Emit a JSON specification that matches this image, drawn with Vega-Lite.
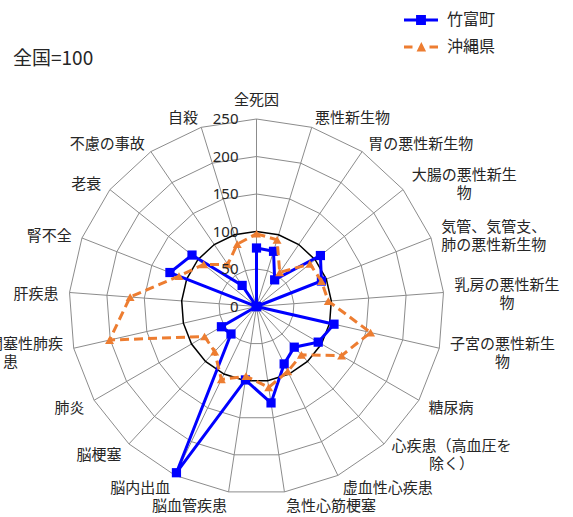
{
  "$schema": "https://vega.github.io/schema/vega-lite/v6.json",
  "width": 375,
  "height": 375,
  "autosize": "none",
  "padding": {"left": 69, "top": 119, "right": 129, "bottom": 23},
  "background": "white",
  "title": {"text": "全国=100", "anchor": "start", "frame": "group", "dx": -56, "dy": 67, "offset": 0, "fontSize": 19, "fontWeight": "normal", "font": "Noto Sans CJK JP", "color": "#262626"},
  "config": {"view": {"stroke": null}, "font": "Noto Sans CJK JP"},
  "datasets": {
    "d": [
      {"cat": "全死因", "竹富町": 78, "沖縄県": 97},
      {"cat": "悪性新生物", "竹富町": 77, "沖縄県": 93},
      {"cat": "胃の悪性新生物", "竹富町": 43, "沖縄県": 55},
      {"cat": "大腸の悪性新生物", "竹富町": 109, "沖縄県": 91},
      {"cat": "気管、気管支、肺の悪性新生物", "竹富町": 93, "沖縄県": 93},
      {"cat": "乳房の悪性新生物", "竹富町": 0, "沖縄県": 96},
      {"cat": "子宮の悪性新生物", "竹富町": 106, "沖縄県": 156},
      {"cat": "糖尿病", "竹富町": 95, "沖縄県": 131},
      {"cat": "心疾患（高血圧を除く）", "竹富町": 74, "沖縄県": 88},
      {"cat": "虚血性心疾患", "竹富町": 85, "沖縄県": 96},
      {"cat": "急性心筋梗塞", "竹富町": 130, "沖縄県": 109},
      {"cat": "脳血管疾患", "竹富町": 99, "沖縄県": 94},
      {"cat": "脳内出血", "竹富町": 246, "沖縄県": 108},
      {"cat": "脳梗塞", "竹富町": 50, "沖縄県": 82},
      {"cat": "肺炎", "竹富町": 54, "沖縄県": 80},
      {"cat": "慢性閉塞性肺疾患", "竹富町": 0, "沖縄県": 201},
      {"cat": "肝疾患", "竹富町": 0, "沖縄県": 169},
      {"cat": "腎不全", "竹富町": 124, "沖縄県": 111},
      {"cat": "老衰", "竹富町": 110, "沖縄県": 90},
      {"cat": "不慮の事故", "竹富町": 34, "沖縄県": 68},
      {"cat": "自殺", "竹富町": 0, "沖縄県": 87}
    ],
    "lv": [{"v": 0}, {"v": 50}, {"v": 100}, {"v": 150}, {"v": 200}, {"v": 250}]
  },
  "layer": [
    {
      "data": {"name": "d"},
      "transform": [
        {"window": [{"op": "row_number", "as": "rn"}]},
        {"calculate": "(datum.rn-1)*2*PI/21", "as": "ang"},
        {"calculate": "0", "as": "o"},
        {"calculate": "250*sin(datum.ang)", "as": "x"},
        {"calculate": "250*cos(datum.ang)", "as": "y"}
      ],
      "mark": {"type": "rule", "color": "#8c8c8c", "strokeWidth": 1},
      "encoding": {
        "x": {"field": "o", "type": "quantitative", "scale": {"domain": [-250, 250]}, "axis": null},
        "y": {"field": "o", "type": "quantitative", "scale": {"domain": [-250, 250]}, "axis": null},
        "x2": {"field": "x"},
        "y2": {"field": "y"}
      }
    },
    {
      "data": {"name": "d"},
      "transform": [
        {"window": [{"op": "row_number", "as": "rn"}]},
        {"calculate": "(datum.rn-1)*2*PI/21", "as": "ang"},
        {"calculate": "[50,150,200,250]", "as": "levs"},
        {"flatten": ["levs"], "as": ["lev"]},
        {"calculate": "datum.lev*sin(datum.ang)", "as": "x"},
        {"calculate": "datum.lev*cos(datum.ang)", "as": "y"}
      ],
      "mark": {"type": "line", "interpolate": "linear-closed", "color": "#8c8c8c", "strokeWidth": 1},
      "encoding": {
        "x": {"field": "x", "type": "quantitative", "scale": {"domain": [-250, 250]}, "axis": null},
        "y": {"field": "y", "type": "quantitative", "scale": {"domain": [-250, 250]}, "axis": null},
        "detail": {"field": "lev", "type": "nominal"},
        "order": {"field": "rn", "type": "quantitative"}
      }
    },
    {
      "data": {"name": "d"},
      "transform": [
        {"window": [{"op": "row_number", "as": "rn"}]},
        {"calculate": "(datum.rn-1)*2*PI/21", "as": "ang"},
        {"calculate": "100*sin(datum.ang)", "as": "x"},
        {"calculate": "100*cos(datum.ang)", "as": "y"}
      ],
      "mark": {"type": "line", "interpolate": "linear-closed", "color": "#000000", "strokeWidth": 1.5},
      "encoding": {
        "x": {"field": "x", "type": "quantitative", "scale": {"domain": [-250, 250]}, "axis": null},
        "y": {"field": "y", "type": "quantitative", "scale": {"domain": [-250, 250]}, "axis": null},
        "order": {"field": "rn", "type": "quantitative"}
      }
    },
    {
      "data": {"name": "d"},
      "transform": [
        {"window": [{"op": "row_number", "as": "rn"}]},
        {"calculate": "(datum.rn-1)*2*PI/21", "as": "ang"},
        {"calculate": "datum['竹富町']*sin(datum.ang)", "as": "x"},
        {"calculate": "datum['竹富町']*cos(datum.ang)", "as": "y"}
      ],
      "mark": {"type": "line", "interpolate": "linear-closed", "color": "#0000ff", "strokeWidth": 3},
      "encoding": {
        "x": {"field": "x", "type": "quantitative", "scale": {"domain": [-250, 250]}, "axis": null},
        "y": {"field": "y", "type": "quantitative", "scale": {"domain": [-250, 250]}, "axis": null},
        "order": {"field": "rn", "type": "quantitative"}
      }
    },
    {
      "data": {"name": "d"},
      "transform": [
        {"window": [{"op": "row_number", "as": "rn"}]},
        {"calculate": "(datum.rn-1)*2*PI/21", "as": "ang"},
        {"calculate": "datum['竹富町']*sin(datum.ang)", "as": "x"},
        {"calculate": "datum['竹富町']*cos(datum.ang)", "as": "y"}
      ],
      "mark": {"type": "point", "shape": "square", "filled": true, "opacity": 1, "color": "#0000ff", "size": 85},
      "encoding": {
        "x": {"field": "x", "type": "quantitative", "scale": {"domain": [-250, 250]}, "axis": null},
        "y": {"field": "y", "type": "quantitative", "scale": {"domain": [-250, 250]}, "axis": null}
      }
    },
    {
      "data": {"name": "d"},
      "transform": [
        {"window": [{"op": "row_number", "as": "rn"}]},
        {"calculate": "(datum.rn-1)*2*PI/21", "as": "ang"},
        {"calculate": "datum['沖縄県']*sin(datum.ang)", "as": "x"},
        {"calculate": "datum['沖縄県']*cos(datum.ang)", "as": "y"}
      ],
      "mark": {"type": "line", "interpolate": "linear-closed", "color": "#ed7d31", "strokeWidth": 3, "strokeDash": [9, 5]},
      "encoding": {
        "x": {"field": "x", "type": "quantitative", "scale": {"domain": [-250, 250]}, "axis": null},
        "y": {"field": "y", "type": "quantitative", "scale": {"domain": [-250, 250]}, "axis": null},
        "order": {"field": "rn", "type": "quantitative"}
      }
    },
    {
      "data": {"name": "d"},
      "transform": [
        {"window": [{"op": "row_number", "as": "rn"}]},
        {"calculate": "(datum.rn-1)*2*PI/21", "as": "ang"},
        {"calculate": "datum['沖縄県']*sin(datum.ang)", "as": "x"},
        {"calculate": "datum['沖縄県']*cos(datum.ang)", "as": "y"}
      ],
      "mark": {"type": "point", "shape": "triangle-up", "filled": true, "opacity": 1, "color": "#ed7d31", "size": 80},
      "encoding": {
        "x": {"field": "x", "type": "quantitative", "scale": {"domain": [-250, 250]}, "axis": null},
        "y": {"field": "y", "type": "quantitative", "scale": {"domain": [-250, 250]}, "axis": null}
      }
    },
    {
      "data": {"name": "lv"},
      "transform": [{"calculate": "0", "as": "o"}],
      "mark": {"type": "text", "align": "right", "baseline": "middle", "dx": -18, "fontSize": 15, "font": "Noto Sans", "color": "#262626"},
      "encoding": {
        "x": {"field": "o", "type": "quantitative", "scale": {"domain": [-250, 250]}, "axis": null},
        "y": {"field": "v", "type": "quantitative", "scale": {"domain": [-250, 250]}, "axis": null},
        "text": {"field": "v", "type": "quantitative"}
      }
    },
    {
      "data": {"name": "d"},
      "transform": [
        {"window": [{"op": "row_number", "as": "rn"}]},
        {"calculate": "(datum.rn-1)*2*PI/21", "as": "ang"},
        {"calculate": "sin(datum.ang)", "as": "s"},
        {"calculate": "cos(datum.ang)", "as": "c"},
        {"calculate": "indexof(datum.cat,'（')>=0 ? 8 : 7", "as": "k"},
        {"calculate": "length(datum.cat)>datum.k", "as": "ml"},
        {"calculate": "datum.ml ? substring(datum.cat,0,datum.k)+'\\n'+substring(datum.cat,datum.k) : datum.cat", "as": "lab"},
        {"calculate": "min(length(datum.cat),datum.k)*15", "as": "w"},
        {"calculate": "abs(datum.s)<0.05 ? 0 : (datum.s>0 ? 1 : -1)", "as": "sg"},
        {"calculate": "250*datum.s + datum.sg*(11*abs(datum.s)+datum.w/2)/0.75", "as": "lx"},
        {"calculate": "250*datum.c - (2 - 12*datum.c - (datum.c>0.99 ? 9 : 0) - (datum.ml ? 9 : 0))/0.75", "as": "ly"}
      ],
      "mark": {"type": "text", "align": "center", "baseline": "middle", "lineBreak": "\n", "lineHeight": 18, "fontSize": 15, "font": "Noto Sans CJK JP", "color": "#262626"},
      "encoding": {
        "x": {"field": "lx", "type": "quantitative", "scale": {"domain": [-250, 250]}, "axis": null},
        "y": {"field": "ly", "type": "quantitative", "scale": {"domain": [-250, 250]}, "axis": null},
        "text": {"field": "lab", "type": "nominal"}
      }
    },
    {
      "data": {"name": "d"},
      "transform": [
        {"fold": ["竹富町", "沖縄県"], "as": ["key", "val"]}
      ],
      "mark": {"type": "point", "filled": true, "size": 0, "strokeWidth": 0, "opacity": 1},
      "encoding": {
        "x": {"field": "val", "type": "quantitative", "scale": {"domain": [-250, 250]}, "axis": null},
        "y": {"field": "val", "type": "quantitative", "scale": {"domain": [-250, 250]}, "axis": null},
        "color": {"field": "key", "type": "nominal", "scale": {"domain": ["竹富町", "沖縄県"], "range": ["#0000ff", "#ed7d31"]},
          "legend": {"title": null, "orient": "none", "legendX": 334, "legendY": -117, "symbolSize": 1156, "symbolOpacity": 1, "labelFontSize": 16, "labelFont": "Noto Sans CJK JP", "labelColor": "#262626", "labelOffset": 8, "rowPadding": 1}},
        "shape": {"field": "key", "type": "nominal", "scale": {"domain": ["竹富町", "沖縄県"], "range": ["M-1,-0.09H1V0.09H-1Z M-0.29,-0.29H0.29V0.29H-0.29Z", "M-1,-0.09H-0.5V0.09H-1Z M0.5,-0.09H1V0.09H0.5Z M0.02,-0.3L0.3,0.26H-0.26Z"]}}
      }
    }
  ]
}
